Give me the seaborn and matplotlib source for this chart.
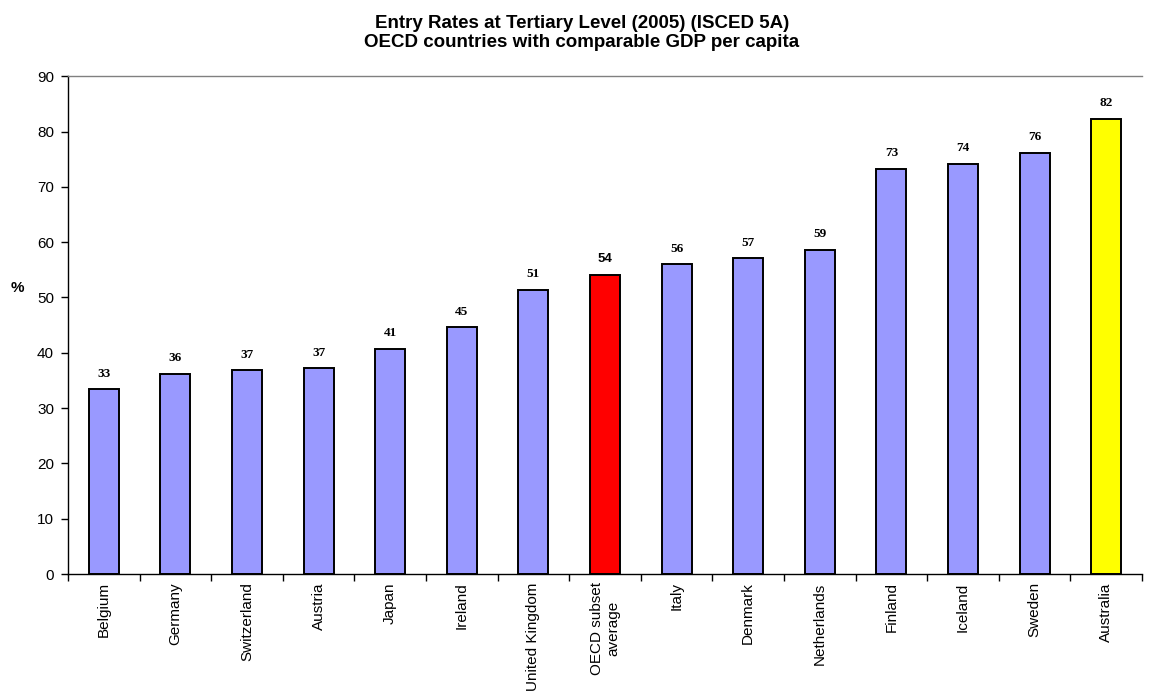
import matplotlib
matplotlib.use("Agg")
import matplotlib.pyplot as plt
import seaborn as sns
import pandas as pd

countries = ["Belgium", "Germany", "Switzerland", "Austria", "Japan", "Ireland",
             "United Kingdom", "OECD subset\naverage", "Italy", "Denmark",
             "Netherlands", "Finland", "Iceland", "Sweden", "Australia"]
entry_rates = [33.4, 36.2, 36.8, 37.2, 40.7, 44.6, 51.4, 54.1, 56.0, 57.1,
               58.6, 73.2, 74.2, 76.1, 82.3]
bar_colors = ["#9999ff"] * 7 + ["#ff0000"] + ["#9999ff"] * 6 + ["#ffff00"]
y_ticks = [0, 10, 20, 30, 40, 50, 60, 70, 80, 90]

sns.set_theme(style="white")
plt.rcParams["font.family"] = ["Liberation Sans", "DejaVu Sans"]
plt.rcParams["text.color"] = "black"
plt.rcParams["axes.labelcolor"] = "black"
plt.rcParams["xtick.color"] = "black"
plt.rcParams["ytick.color"] = "black"

df = pd.DataFrame({"country": countries, "rate": entry_rates})

fig = plt.figure(figsize=(11.54, 7.0), dpi=100)
ax = fig.add_axes([0.0589, 0.18, 0.9307, 0.711])

sns.barplot(data=df, x="country", y="rate", hue="country",
            palette=dict(zip(countries, bar_colors)), legend=False,
            width=0.42, edgecolor="black", linewidth=1.4, ax=ax, saturation=1)

ax.set_ylim(0, 90)
ax.set_xlim(-0.5, len(countries) - 0.5)
ax.set_yticks(y_ticks)
ax.tick_params(axis="y", labelsize=11, direction="out", length=5, width=1,
               left=True, pad=5)
ax.set_xticks(range(len(countries)))
ax.set_xticklabels(countries, rotation=90, fontsize=11, va="top",
                   ha="center", multialignment="center")
ax.tick_params(axis="x", which="major", bottom=True, length=0, pad=6)
# category separators below the axis
ax.set_xticks([i - 0.5 for i in range(len(countries) + 1)], minor=True)
ax.tick_params(axis="x", which="minor", bottom=True, direction="out",
               length=5, width=1, color="black")

ax.set_xlabel("")
ax.set_ylabel("%", rotation=0, fontweight="bold", fontsize=11)
ax.yaxis.set_label_coords(-0.047, 0.56)

for side in ["left", "bottom"]:
    ax.spines[side].set_color("black")
    ax.spines[side].set_linewidth(1.0)
ax.spines["top"].set_color("#808080")
ax.spines["top"].set_linewidth(1.0)
ax.spines["right"].set_visible(False)

# value labels above each bar
for i, (name, val) in enumerate(zip(countries, entry_rates)):
    is_avg = name.startswith("OECD")
    ax.annotate(f"{val:.0f}", xy=(i, val), xytext=(0, 7), textcoords="offset points",
                ha="center", va="bottom", fontsize=9.5,
                fontweight="bold",
                family="Liberation Sans" if is_avg else "Liberation Serif")

fig.suptitle("Entry Rates at Tertiary Level (2005) (ISCED 5A)\n"
             "OECD countries with comparable GDP per capita",
             fontsize=13.5, fontweight="bold", y=0.978, x=582 / 1154,
             linespacing=1.15)

fig.savefig("out.png", dpi=100, facecolor="white")
